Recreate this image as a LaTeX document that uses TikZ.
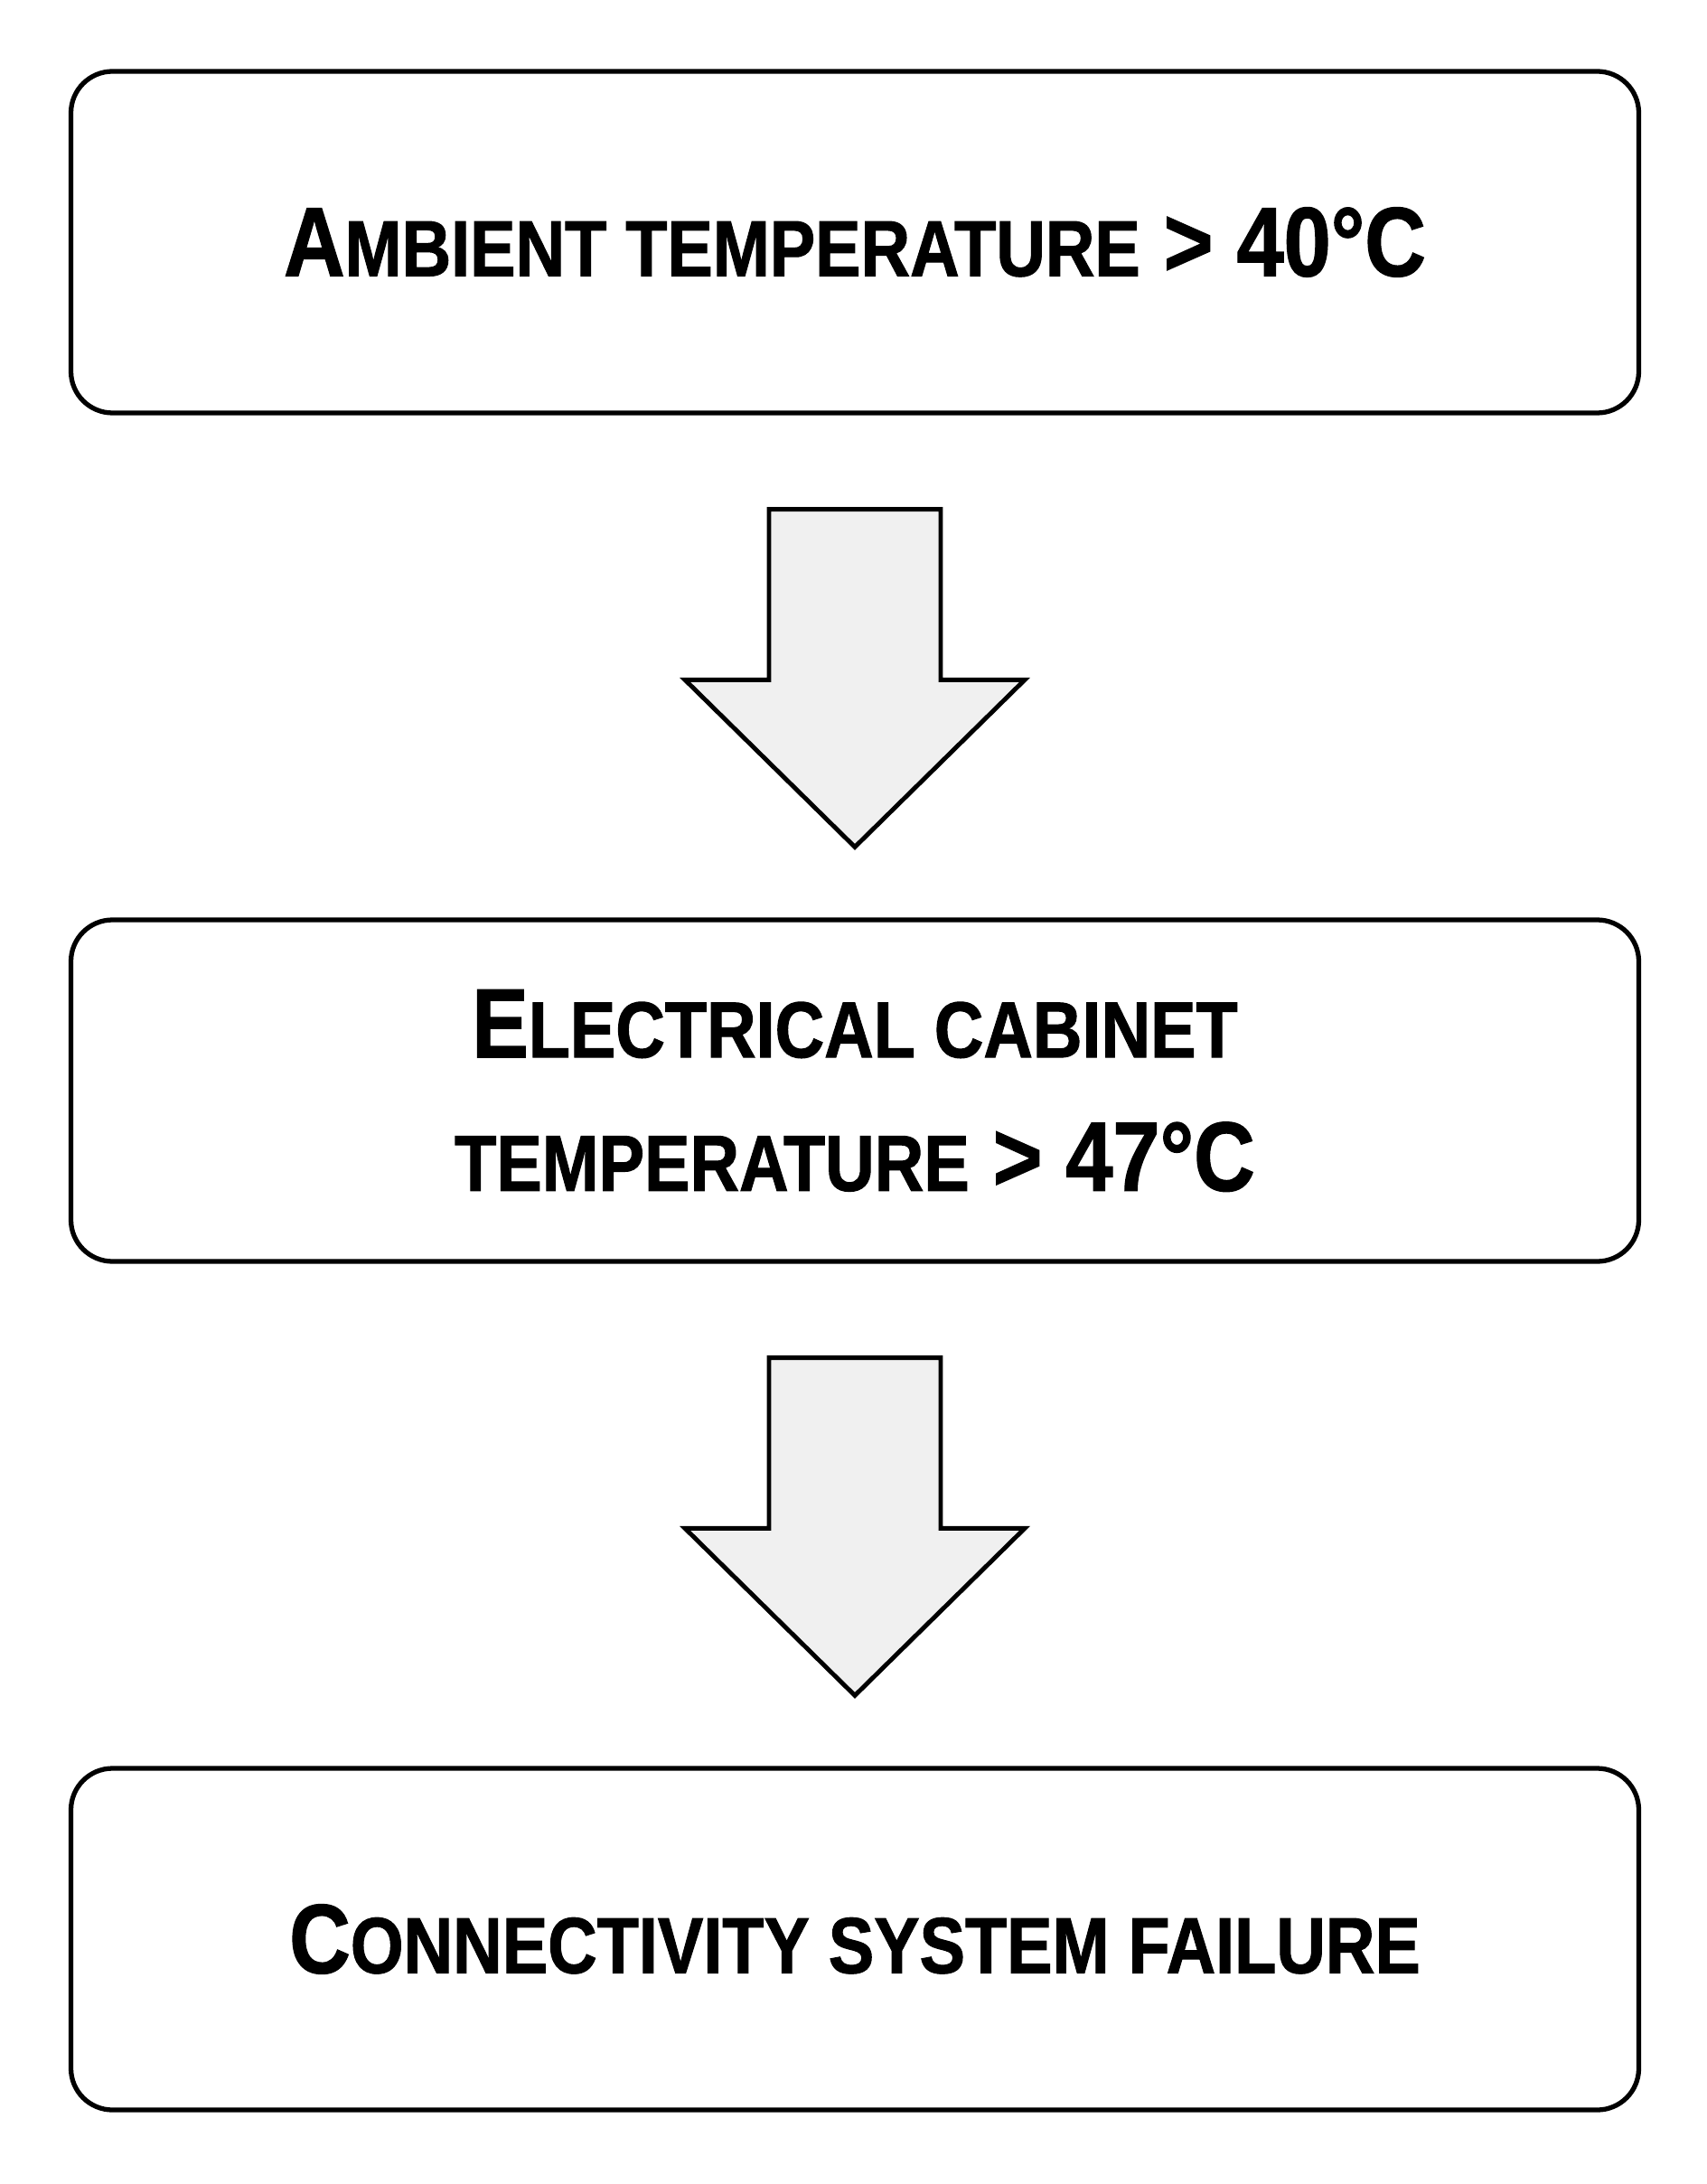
\documentclass[tikz,border=0pt]{standalone}
\usepackage{fontspec}
\setmainfont{Liberation Sans}[FakeStretch=0.86, BoldFeatures={FakeBold=1.2}]
\usetikzlibrary{positioning, calc}

\newcommand{\fsc}[1]{{\fontsize{25}{30}\selectfont\MakeUppercase{#1}}}
\newcommand{\blockarrow}[2]{%
\draw[bigarrow] ($(#1.south)+(-9.5mm,-10.4mm)$) -- ($(#1.south)+(9.5mm,-10.4mm)$)
	-- ($(#2.north)+(9.5mm,26.3mm)$) -- ($(#2.north)+(18.8mm,26.3mm)$)
	-- ($(#2.north)+(0,7.8mm)$) -- ($(#2.north)+(-18.8mm,26.3mm)$)
	-- ($(#2.north)+(-9.5mm,26.3mm)$) -- cycle;}

\begin{document}
\begin{tikzpicture} [
						node distance=93.9mm,
						box/.style={draw, rounded corners=4.6mm, line width=1.5pt,
							minimum width=173.5mm, minimum height=37.8mm, align=center,
							font=\bfseries\fontsize{31}{42}\selectfont},
						bigarrow/.style={draw, fill=gray!12, line width=1.4pt, line join=miter}
					]

\useasboundingbox (0,0) rectangle (188.8mm,-241.7mm);

\node (amb) [box] at (94.6mm,-26.8mm) {A\fsc{mbient temperature} > 40°C};
\node (cab) [box, below of=amb] {E\fsc{lectrical cabinet}\\ \fsc{temperature} > 47°C};
\node (fail) [box, below of=cab] {C\fsc{onnectivity system  failure}};

\blockarrow{amb}{cab}
\blockarrow{cab}{fail}
\end{tikzpicture}
\end{document}
